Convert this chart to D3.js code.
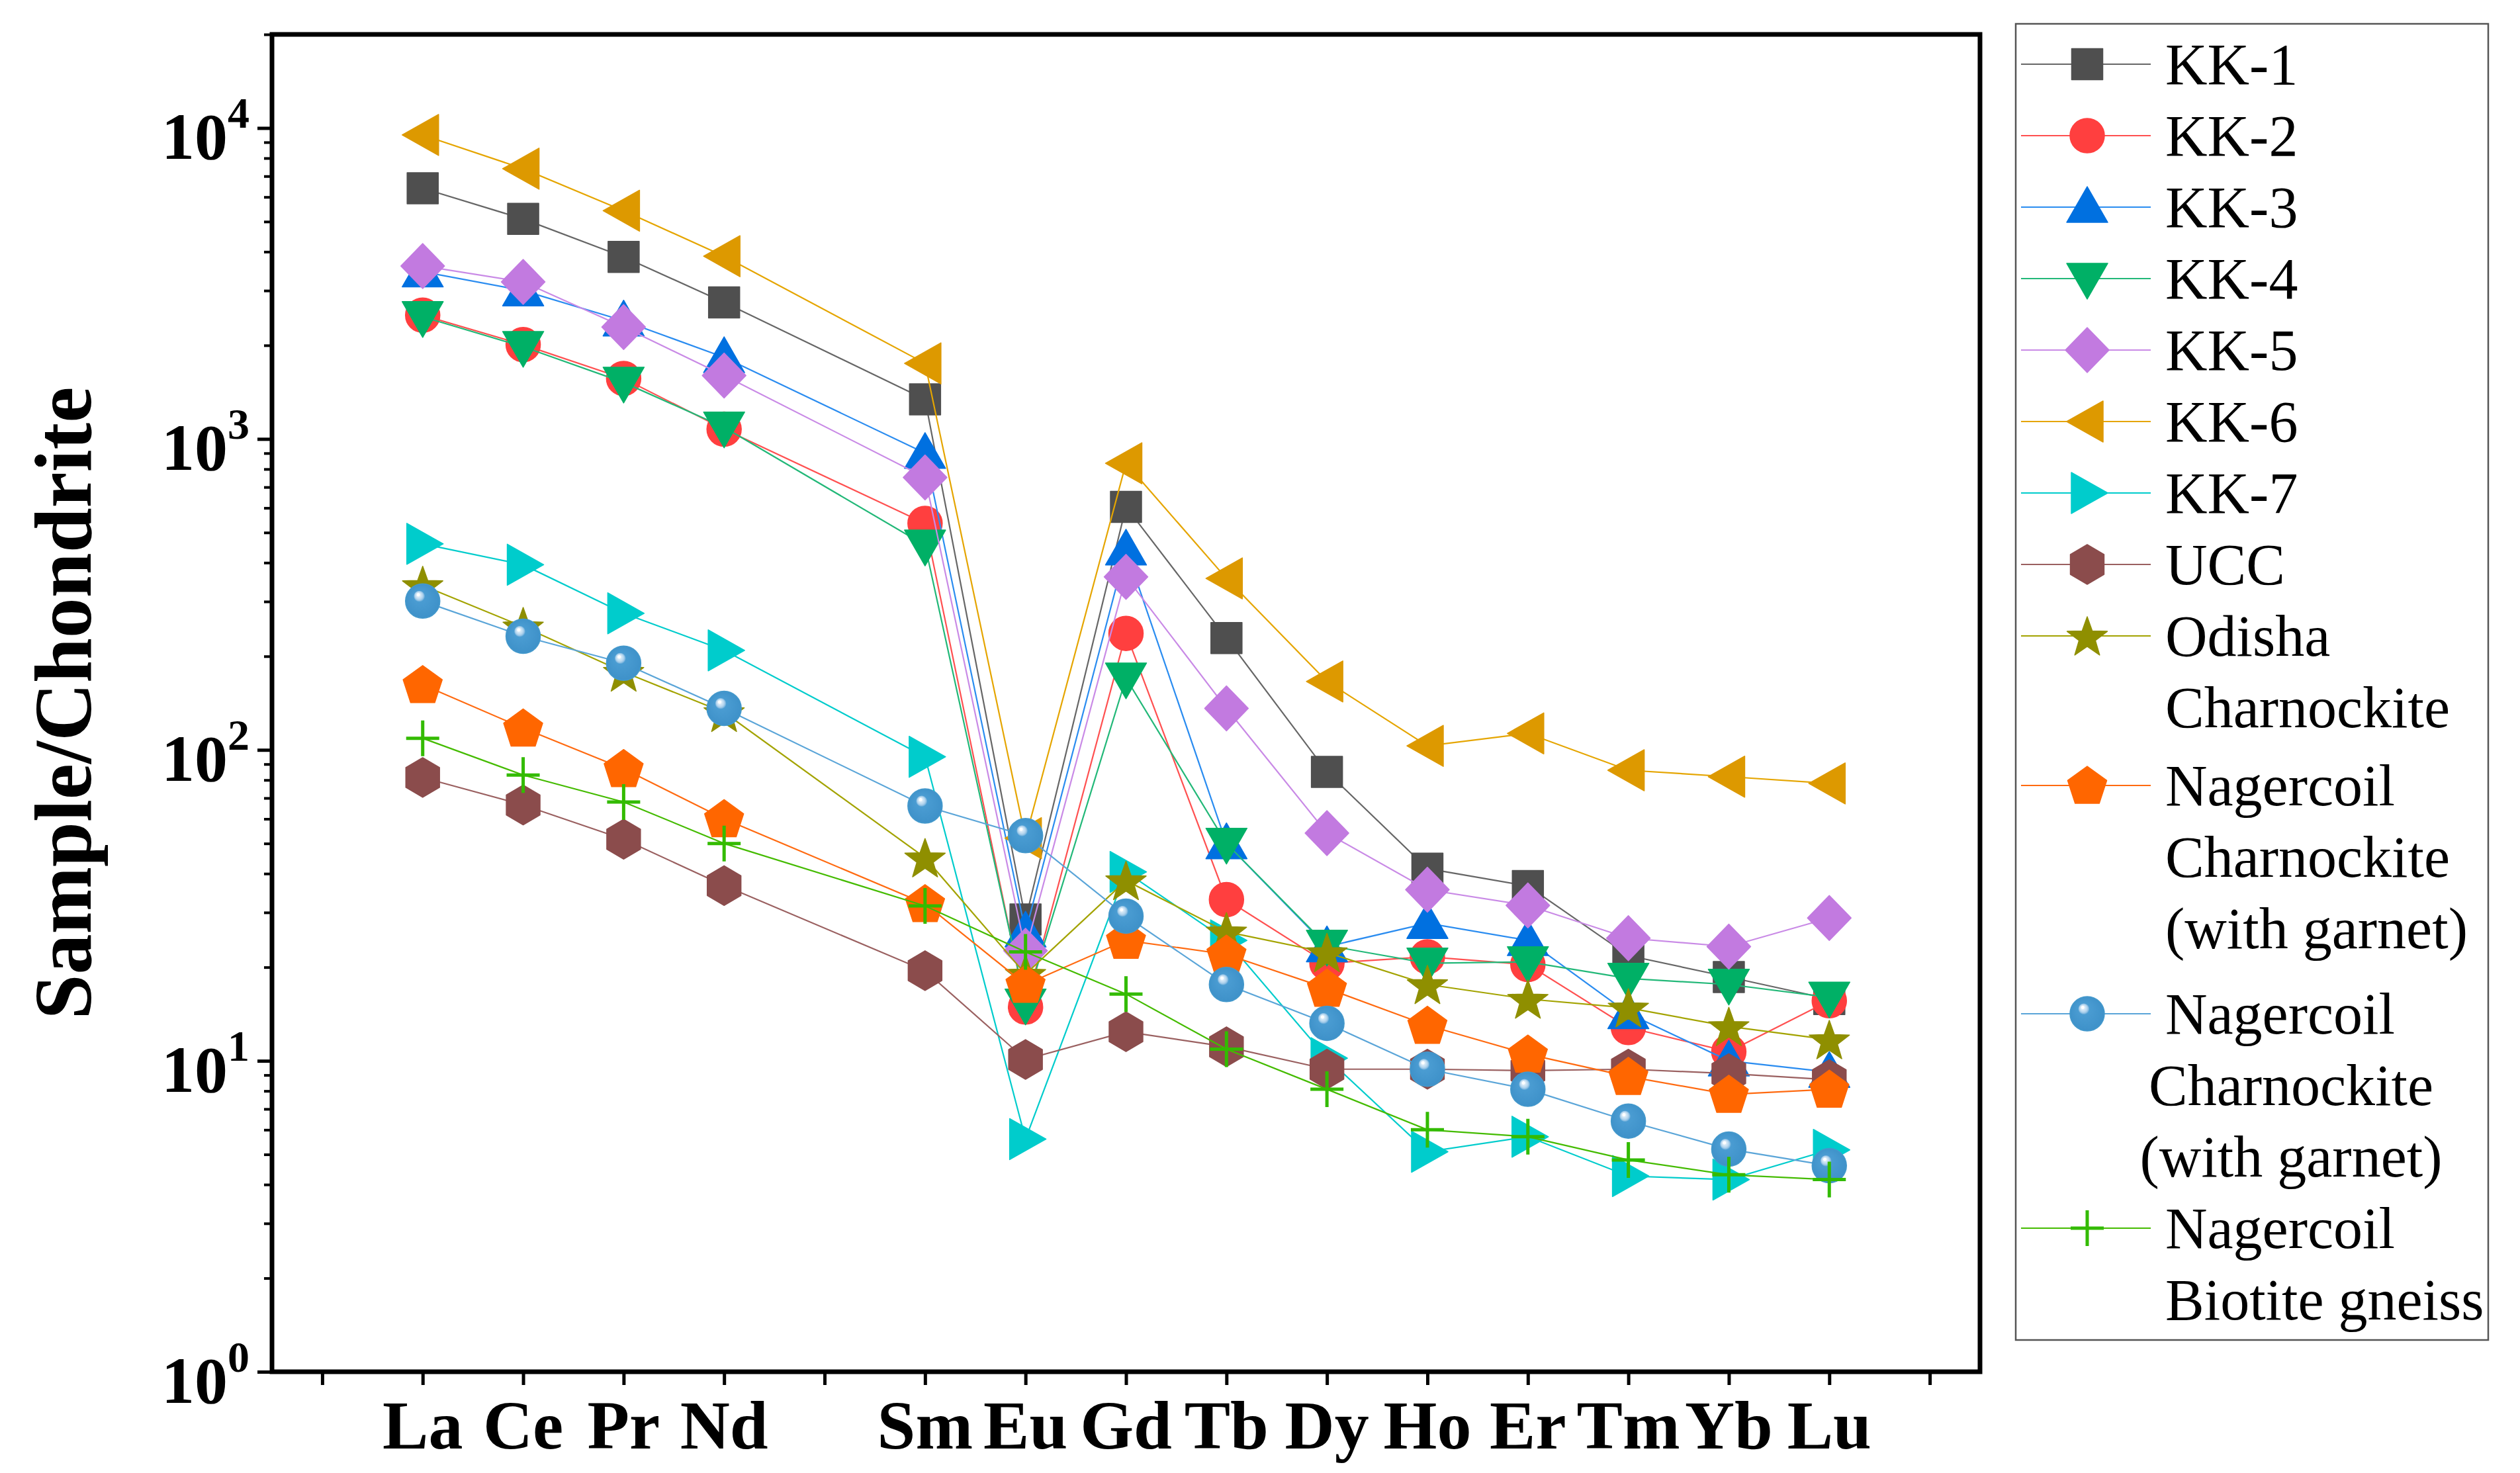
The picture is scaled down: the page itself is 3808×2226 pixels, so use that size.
<!DOCTYPE html>
<html lang="en">
<head>
<meta charset="UTF-8">
<title>Chondrite-normalised REE</title>
<script src="https://cdn.jsdelivr.net/npm/d3@7/dist/d3.min.js"></script>
<style>
    body { margin: 0; background: #fff; }
    text { font-family: "Liberation Serif", "Times New Roman", serif; }
</style>
</head>
<body>
<script>
    // elements and their slot on the x axis (Pm left out)
    const elements = ["La", "Ce", "Pr", "Nd", "Sm", "Eu", "Gd", "Tb", "Dy", "Ho", "Er", "Tm", "Yb", "Lu"];
    const elementSlot = [1, 2, 3, 4, 6, 7, 8, 9, 10, 11, 12, 13, 14, 15];

    const yTicks = [1, 10, 100, 1000, 10000];
    const yExponents = ["0", "1", "2", "3", "4"];

    // sample/chondrite values
    const kk1 = [6400, 5100, 3850, 2750, 1340, 28.5, 605, 229, 85, 41.5, 36.5, 21.8, 18.6, 15.8];
    const kk2 = [2500, 2010, 1565, 1075, 535, 14.9, 237, 33, 20.6, 21.6, 20.4, 12.8, 10.7, 15.6];
    const kk3 = [3450, 3000, 2400, 1830, 900, 26, 440, 50, 23.3, 27.7, 24.4, 14.2, 10.0, 9.2];
    const kk4 = [2470, 1980, 1520, 1090, 455, 15.2, 170, 50, 23.5, 20.6, 20.8, 18.4, 17.6, 16.0];
    const kk5 = [3600, 3200, 2290, 1600, 752, 22.6, 360, 136, 54, 35.5, 31.6, 24.8, 23.3, 28.8];
    const kk6 = [9500, 7400, 5420, 3870, 1750, 52, 835, 356, 166, 103, 113, 86, 82, 78];
    const kk7 = [460, 394, 275, 209, 95, 5.6, 40.5, 24.4, 10.2, 5.1, 5.7, 4.26, 4.15, 5.17];
    const ucc = [81.5, 66.5, 51.6, 36.6, 19.5, 10.1, 12.4, 11.1, 9.4, 9.4, 9.3, 9.4, 9.1, 8.7];
    const odisha = [338, 249, 178, 132, 45, 19, 38, 26, 22.3, 17.6, 15.8, 14.8, 12.9, 11.7];
    const nagercoilGt1 = [162, 117.5, 87, 60, 32, 17.6, 24.4, 22, 17.1, 13.0, 10.5, 8.9, 7.8, 8.1];
    const nagercoilGt2 = [301, 232, 190, 136, 66, 53, 29.2, 17.6, 13.2, 9.4, 8.1, 6.4, 5.2, 4.6];
    const biotiteGneiss = [109, 83, 68, 50, 31.5, 22.4, 16.4, 10.9, 8.1, 6.0, 5.7, 4.8, 4.3, 4.15];

    const seriesValues = [kk1, kk2, kk3, kk4, kk5, kk6, kk7, ucc, odisha, nagercoilGt1, nagercoilGt2, biotiteGneiss];
    const legendLabels = [
        ["KK-1"], ["KK-2"], ["KK-3"], ["KK-4"], ["KK-5"], ["KK-6"], ["KK-7"], ["UCC"],
        ["Odisha", "Charnockite"],
        ["Nagercoil", "Charnockite", "(with garnet)"],
        ["Nagercoil", "Charnockite", "(with garnet)"],
        ["Nagercoil", "Biotite gneiss"]
    ];

    // styles
    const fills = ["#4f4f4f", "#ff3f3f", "#0070e0", "#00b066", "#c27ae0", "#dd9900",
        "#00cccc", "#8b4c4c", "#8f8f00", "#ff6600", "url(#sphere)", "#33bb00"];
    const lineColors = ["#666666", "#ff5050", "#2a8cf0", "#22b878", "#c98ae6", "#e5a500",
        "#00cccc", "#9a6060", "#a3a300", "#ff6a10", "#5aa5d8", "#44bb00"];
    const shapes = ["square", "circle", "up", "down", "diamond", "left", "right",
        "hexagon", "star", "pentagon", "circle", "plus"];

    const W = 3808, H = 2226;
    const plotLeft = 411, plotRight = 2992, plotTop = 52, plotBottom = 2073;

    const svg = d3.select("body").append("svg")
        .attr("width", W)
        .attr("height", H);

    const defs = svg.append("defs");
    const grad = defs.append("radialGradient").attr("id", "sphere")
        .attr("cx", "0.5").attr("cy", "0.5").attr("r", "0.55")
        .attr("fx", "0.36").attr("fy", "0.3");
    [[0, "#ffffff"], [0.07, "#ffffff"], [0.1, "#dcecf8"], [0.2, "#b4d5ee"], [0.25, "#8fc0e4"],
        [0.3, "#4a9cd2"], [1, "#3d90c8"]].forEach(function (s) {
        grad.append("stop").attr("offset", s[0]).attr("stop-color", s[1]);
    });

    const x = d3.scaleLinear().domain([-0.5, 16.5]).range([plotLeft, plotRight]);
    const y = d3.scaleLog().domain([1, 20000]).range([plotBottom, plotTop]);

    function poly(pts) {
        return "M" + pts.map(function (p) { return p[0] + "," + p[1]; }).join("L") + "Z";
    }
    function ngon(n, r, start) {
        const pts = [];
        for (let k = 0; k < n; k++) {
            const a = (start + k * 360 / n) * Math.PI / 180;
            pts.push([r * Math.cos(a), r * Math.sin(a)]);
        }
        return pts;
    }
    function markerPath(shape) {
        switch (shape) {
            case "square": return poly([[-23.5, -23.5], [23.5, -23.5], [23.5, 23.5], [-23.5, 23.5]]);
            case "circle": return d3.symbol(d3.symbolCircle, Math.PI * 26 * 26)();
            case "up": return poly([[0, -31], [31, 23], [-31, 23]]);
            case "down": return poly([[0, 31], [31, -23], [-31, -23]]);
            case "diamond": return poly([[0, -34], [33, 0], [0, 34], [-33, 0]]);
            case "left": return poly([[-31, 0], [24, -31], [24, 31]]);
            case "right": return poly([[31, 0], [-24, -31], [-24, 31]]);
            case "hexagon": return poly(ngon(6, 30, -90).map(function (p) { return [p[0] * 0.98, p[1]]; }));
            case "pentagon": return poly(ngon(5, 31, -90).map(function (p) { return [p[0], p[1] + 2]; }));
            case "star": {
                const pts = [];
                for (let k = 0; k < 10; k++) {
                    const r = k % 2 === 0 ? 32 : 13;
                    const a = (-90 + k * 36) * Math.PI / 180;
                    pts.push([r * Math.cos(a), r * Math.sin(a) + 3]);
                }
                return poly(pts);
            }
            case "plus": return "M-25,0H25M0,-27V27";
        }
    }
    function drawMarker(g, i, cx, cy) {
        const p = g.append("path")
            .attr("d", markerPath(shapes[i]))
            .attr("transform", "translate(" + cx + "," + cy + ")");
        if (shapes[i] === "plus") {
            p.attr("fill", "none").attr("stroke", fills[i]).attr("stroke-width", 5);
        } else {
            p.attr("fill", fills[i])
                .attr("stroke", i === 10 ? "#4499cc" : fills[i])
                .attr("stroke-width", 1.5)
                .attr("stroke-linejoin", "round");
        }
    }

    // series: line then symbols, in order
    const line = d3.line()
        .x(function (d, j) { return x(elementSlot[j]); })
        .y(function (d) { return y(d); });

    seriesValues.forEach(function (vals, i) {
        const g = svg.append("g");
        g.append("path")
            .attr("d", line(vals))
            .attr("fill", "none")
            .attr("stroke", lineColors[i])
            .attr("stroke-width", 2.2);
        vals.forEach(function (v, j) {
            drawMarker(g, i, x(elementSlot[j]), y(v));
        });
    });

    // frame
    svg.append("rect")
        .attr("x", plotLeft).attr("y", plotTop)
        .attr("width", plotRight - plotLeft).attr("height", plotBottom - plotTop)
        .attr("fill", "none").attr("stroke", "#000").attr("stroke-width", 7);

    // x ticks
    svg.append("g")
        .attr("transform", "translate(0," + plotBottom + ")")
        .call(d3.axisBottom(x).tickValues(d3.range(0, 17)).tickSize(20).tickFormat(""))
        .call(function (g) {
            g.select(".domain").remove();
            g.selectAll("line").attr("stroke-width", 5);
        });

    svg.append("g").selectAll("text")
        .data(elements)
        .enter()
        .append("text")
        .attr("x", function (d, j) { return x(elementSlot[j]); })
        .attr("y", 2189)
        .attr("text-anchor", "middle")
        .attr("font-size", 104)
        .attr("font-weight", "bold")
        .text(function (d) { return d; });

    // y ticks, major and minor
    const minor = [];
    for (let e = 0; e < 5; e++) {
        for (let m = 2; m <= 9; m++) {
            const v = m * Math.pow(10, e);
            if (v <= 20000) minor.push(v);
        }
    }
    svg.append("g")
        .attr("transform", "translate(" + plotLeft + ",0)")
        .call(d3.axisLeft(y).tickValues(minor).tickSize(12).tickFormat(""))
        .call(function (g) {
            g.select(".domain").remove();
            g.selectAll("line").attr("stroke-width", 4);
        });
    svg.append("g")
        .attr("transform", "translate(" + plotLeft + ",0)")
        .call(d3.axisLeft(y).tickValues(yTicks).tickSize(22).tickFormat(""))
        .call(function (g) {
            g.select(".domain").remove();
            g.selectAll("line").attr("stroke-width", 5);
        });

    const yl = svg.append("g").selectAll("text")
        .data(yTicks)
        .enter()
        .append("text")
        .attr("x", 377)
        .attr("y", function (d) { return y(d) + 47; })
        .attr("text-anchor", "end")
        .attr("font-size", 100)
        .attr("font-weight", "bold");
    yl.append("tspan").text("10");
    yl.append("tspan")
        .attr("dy", -47)
        .attr("font-size", 66)
        .text(function (d, j) { return yExponents[j]; });

    svg.append("text")
        .attr("transform", "translate(137," + (plotTop + plotBottom) / 2 + ") rotate(-90)")
        .attr("text-anchor", "middle")
        .attr("font-size", 122)
        .attr("font-weight", "bold")
        .text("Sample/Chondrite");

    // legend
    const lg = svg.append("g");
    lg.append("rect")
        .attr("x", 3046).attr("y", 36)
        .attr("width", 714).attr("height", 1989)
        .attr("fill", "#fff").attr("stroke", "#555").attr("stroke-width", 2.5);

    const legendExtra = [0, 0, 0, 0, 0, 0, 0, 0, 0, 10, 21, 0];
    let rowY = 97;
    legendLabels.forEach(function (lines, i) {
        rowY += legendExtra[i];
        lg.append("line")
            .attr("x1", 3054).attr("x2", 3250)
            .attr("y1", rowY).attr("y2", rowY)
            .attr("stroke", lineColors[i]).attr("stroke-width", 2.2);
        drawMarker(lg, i, 3154, rowY);
        lines.forEach(function (t, k) {
            const centred = i === 10 && k > 0;
            lg.append("text")
                .attr("x", centred ? 3462 : 3272)
                .attr("y", rowY + 30 + k * 108)
                .attr("text-anchor", centred ? "middle" : "start")
                .attr("font-size", 88)
                .text(t);
        });
        rowY += lines.length * 108;
    });
</script>
</body>
</html>
